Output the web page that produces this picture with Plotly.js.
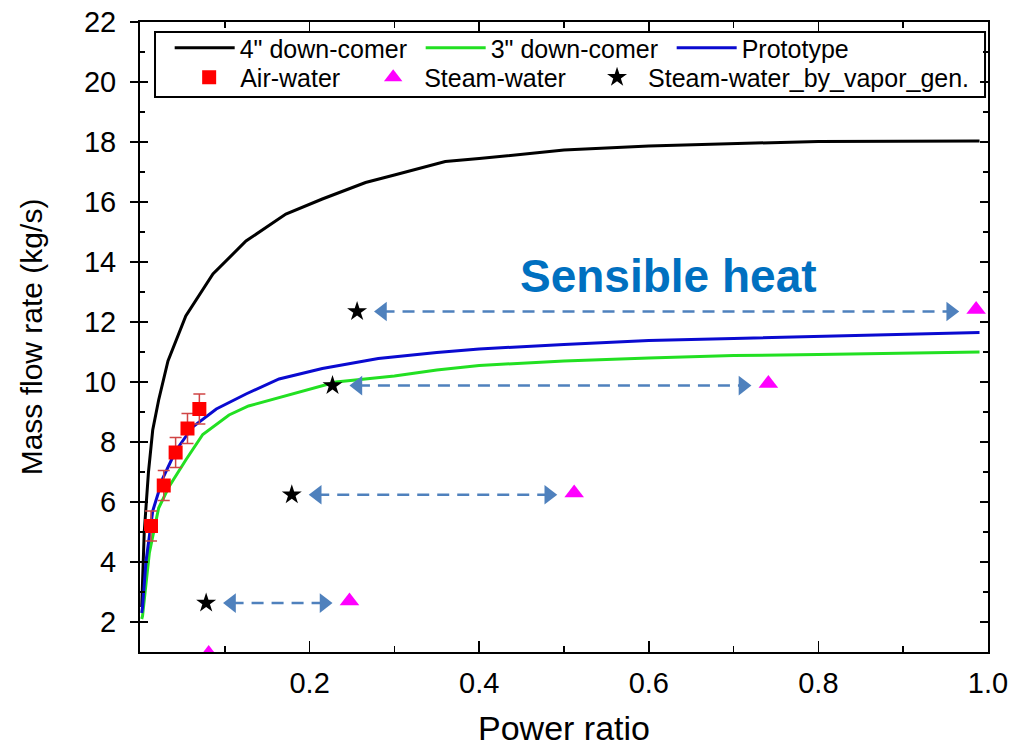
<!DOCTYPE html>
<html>
<head>
<meta charset="utf-8">
<script src="https://cdn.plot.ly/plotly-3.0.1.min.js"></script>
<style>
  html, body { margin: 0; padding: 0; background: #fff; }
  #chart { width: 1010px; height: 747px; }
</style>
</head>
<body>
<div id="chart"></div>
<script>
// ---- data ----
const ratio4in = [0.002, 0.005, 0.01, 0.015, 0.022, 0.033, 0.054, 0.086, 0.125, 0.172, 0.215, 0.266, 0.30, 0.36, 0.40, 0.50, 0.60, 0.70, 0.80, 0.99];
const flow4in  = [2.5, 5.0, 7.0, 8.4, 9.4, 10.7, 12.2, 13.6, 14.7, 15.6, 16.1, 16.65, 16.9, 17.35, 17.45, 17.73, 17.87, 17.95, 18.02, 18.03];

const ratio3in = [0.002, 0.003, 0.011, 0.022, 0.034, 0.054, 0.074, 0.105, 0.128, 0.172, 0.231, 0.30, 0.35, 0.40, 0.50, 0.60, 0.70, 0.80, 0.90, 0.99];
const flow3in  = [2.1, 2.2, 4.3, 5.8, 6.5, 7.4, 8.25, 8.9, 9.2, 9.55, 10.0, 10.2, 10.4, 10.55, 10.7, 10.8, 10.88, 10.92, 10.97, 11.0];

const ratioProto = [0.002, 0.003, 0.007, 0.015, 0.027, 0.042, 0.062, 0.09, 0.125, 0.164, 0.215, 0.281, 0.35, 0.40, 0.50, 0.60, 0.70, 0.80, 0.90, 0.99];
const flowProto  = [2.3, 2.5, 4.0, 5.7, 6.8, 7.7, 8.5, 9.1, 9.6, 10.1, 10.45, 10.78, 10.98, 11.1, 11.25, 11.38, 11.45, 11.52, 11.6, 11.65];

const ratioAir = [0.013, 0.028, 0.042, 0.056, 0.070];
const flowAir  = [5.2, 6.55, 7.65, 8.45, 9.1];
const errAir   = [0.5, 0.5, 0.5, 0.5, 0.5];

const ratioSteam = [0.081, 0.247, 0.512, 0.741, 0.986];
const flowSteam  = [0.95, 2.7, 6.3, 9.95, 12.42];

const ratioVapor = [0.078, 0.179, 0.227, 0.256];
const flowVapor  = [2.63, 6.24, 9.88, 12.35];

const xTickVals = [0.2, 0.4, 0.6, 0.8, 1.0];
const xTickText = ["0.2", "0.4", "0.6", "0.8", "1.0"];
const yTickVals = [2, 4, 6, 8, 10, 12, 14, 16, 18, 20, 22];

// ---- traces ----
const arrowColor = '#4F81BD';
const headGap = 0.03;
const traces = [
  { x: ratio4in, y: flow4in, mode: 'lines', name: '4" down-comer',
    line: { color: '#000000', width: 3 }, legend: 'legend' },
  { x: ratio3in, y: flow3in, mode: 'lines', name: '3" down-comer',
    line: { color: '#22E022', width: 3 }, legend: 'legend' },
  { x: ratioProto, y: flowProto, mode: 'lines', name: 'Prototype',
    line: { color: '#0A0AD0', width: 3 }, legend: 'legend' },
];

// arrows from each vapor-gen star to its steam-water triangle
for (let i = 0; i < ratioVapor.length; i++) {
  const x0 = ratioVapor[i] + headGap;
  const x1 = ratioSteam[i + 1] - headGap;
  const yv = flowVapor[i];
  traces.push({ x: [x0, x1], y: [yv, yv], mode: 'lines', showlegend: false,
    hoverinfo: 'skip', line: { color: arrowColor, width: 2.5, dash: '12px,8px' } });
  traces.push({ x: [x0, x1], y: [yv, yv], mode: 'markers', showlegend: false,
    hoverinfo: 'skip',
    marker: { symbol: ['triangle-left', 'triangle-right'], size: 17, color: arrowColor } });
}

traces.push(
  { x: ratioAir, y: flowAir, mode: 'markers', name: 'Air-water', legend: 'legend2',
    marker: { symbol: 'square', size: 14, color: '#FF0000' },
    error_y: { type: 'data', array: errAir, visible: true, color: '#D04545', thickness: 1.5, width: 6 } },
  { x: ratioSteam, y: flowSteam, mode: 'markers', name: 'Steam-water', legend: 'legend4',
    marker: { symbol: 'triangle-up', size: 17, color: '#FF00FF' } },
  { x: ratioVapor, y: flowVapor, mode: 'markers', name: 'Steam-water_by_vapor_gen.', legend: 'legend3',
    marker: { symbol: 'star', size: 15, color: '#000000' } }
);

const tickFont = { family: 'Liberation Sans, Arial, sans-serif', size: 29, color: '#000' };
const narrowFont = { family: 'Liberation Sans Narrow, Arial Narrow, Liberation Sans, sans-serif', size: 29, color: '#000' };
const legendFont = { family: 'Liberation Sans, Arial, sans-serif', size: 25, color: '#000' };
const markerLegend = (xpos) => ({
  orientation: 'h', x: xpos, xanchor: 'left', y: 0.912, yanchor: 'middle',
  bgcolor: 'rgba(0,0,0,0)', borderwidth: 0, itemwidth: 52,
  font: legendFont, traceorder: 'normal'
});

const layout = {
  width: 1010, height: 747,
  margin: { l: 140, r: 22, t: 22, b: 95 },
  paper_bgcolor: '#ffffff', plot_bgcolor: '#ffffff',
  showlegend: true,
  xaxis: {
    range: [0, 1.0], showgrid: false, zeroline: false,
    showline: true, linecolor: '#000', linewidth: 2, mirror: 'ticks',
    ticks: 'inside', ticklen: 11, tickwidth: 1.5, tickcolor: '#000',
    tickvals: xTickVals, ticktext: xTickText, tickfont: narrowFont,
    ticklabelstandoff: 4,
    minor: { dtick: 0.1, tick0: 0, ticks: 'inside', ticklen: 6, tickwidth: 1.5, tickcolor: '#000' },
    title: { text: 'Power ratio', font: { family: narrowFont.family, size: 34, color: '#000' }, standoff: 24 },
    automargin: false
  },
  yaxis: {
    range: [1, 22], showgrid: false, zeroline: false,
    showline: true, linecolor: '#000', linewidth: 2, mirror: true,
    ticks: 'outside', ticklen: 8, tickwidth: 1.5, tickcolor: '#000',
    tickvals: yTickVals, tickfont: tickFont, ticklabelstandoff: 8,
    title: { text: 'Mass flow rate (kg/s)', font: { family: tickFont.family, size: 30, color: '#000' }, standoff: 32 },
    automargin: false
  },
  yaxis2: {
    overlaying: 'y', range: [1, 22], showgrid: false, zeroline: false,
    showline: false, mirror: 'ticks', ticks: 'inside', ticklen: 8, tickwidth: 1.5, tickcolor: '#000',
    tickvals: yTickVals, showticklabels: false,
    minor: { dtick: 1, tick0: 1, ticks: 'inside', ticklen: 5, tickwidth: 1.5, tickcolor: '#000' }
  },
  legend: {
    orientation: 'h', x: 0.035, xanchor: 'left', y: 0.9587, yanchor: 'middle',
    bgcolor: 'rgba(0,0,0,0)', borderwidth: 0, itemwidth: 60, entrywidth: 176,
    font: legendFont, traceorder: 'normal'
  },
  legend2: markerLegend(0.045),
  legend4: markerLegend(0.262),
  legend3: markerLegend(0.526),
  shapes: [
    { type: 'rect', xref: 'paper', yref: 'paper', x0: 0.0177, x1: 0.9965, y0: 0.881, y1: 0.984,
      line: { color: '#000', width: 2 }, fillcolor: 'rgba(255,255,255,1)', layer: 'below' }
  ],
  annotations: [
    { x: 0.623, y: 13.55, xref: 'x', yref: 'y', text: 'Sensible heat', showarrow: false,
      font: { family: 'Liberation Sans, Arial, sans-serif', size: 46, color: '#0070C0', weight: 'bold' } }
  ]
};

// add a dummy trace on yaxis2 so the overlay axis is drawn
traces.push({ x: [0.5], y: [null], yaxis: 'y2', mode: 'markers', showlegend: false, hoverinfo: 'skip' });

Plotly.newPlot('chart', traces, layout, { displayModeBar: false, staticPlot: true });
</script>
</body>
</html>
